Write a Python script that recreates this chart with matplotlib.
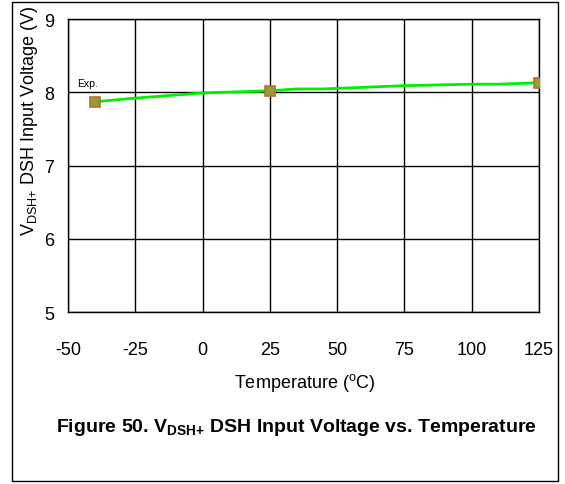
import matplotlib
matplotlib.use("Agg")
import matplotlib.pyplot as plt
from matplotlib.patches import Rectangle

plt.rcParams['font.family'] = ['Liberation Sans', 'DejaVu Sans']
plt.rcParams['mathtext.fontset'] = 'custom'
plt.rcParams['mathtext.rm'] = 'Liberation Sans'
plt.rcParams['mathtext.bf'] = 'Liberation Sans:bold'
plt.rcParams['axes.unicode_minus'] = False

# Data
line_temps = [-40, -25, 0, 25, 35, 45, 75, 100, 110, 125]
line_volts = [7.87, 7.92, 7.99, 8.02, 8.045, 8.045, 8.09, 8.11, 8.11, 8.13]
marker_temps = [-40, 25, 125]
marker_volts = [7.87, 8.02, 8.13]
x_ticks = [-50, -25, 0, 25, 50, 75, 100, 125]
y_ticks = [5, 6, 7, 8, 9]

fig = plt.figure(figsize=(5.65, 4.85), dpi=100)
ax = fig.add_axes([68/565, 1-313/485, (539-68)/565, (313-20)/485])

ax.plot(line_temps, line_volts, color='#00ee00', lw=2, zorder=3)
ax.plot(marker_temps, marker_volts, ls='none', marker='s', ms=7,
        mfc='#9a9a2e', mec='#b0703a', mew=1.2, zorder=4)

ax.set_xlim(-50, 125)
ax.set_ylim(5, 9)
ax.set_xticks(x_ticks)
ax.set_yticks(y_ticks)
ax.tick_params(axis='both', length=0, labelsize=13)
ax.tick_params(axis='x', pad=21)
ax.tick_params(axis='y', pad=10)
ax.grid(True, color='black', lw=1)
for s in ax.spines.values():
    s.set_color('black')
    s.set_linewidth(1)

ax.text(-46.5, 8.06, 'Exp.', fontsize=7.5, va='bottom', ha='left')

fig.text(30/565, 1-5/485, r'V$_{\mathregular{DSH{+}}}$ DSH Input Voltage (V)',
         rotation=90, ha='center', va='top', fontsize=13)
fig.text(305/565, 1-383/485, r'Temperature ($^{\mathregular{o}}$C)',
         ha='center', va='center', fontsize=13)
fig.text(296/565, 1-428/485, r'Figure 50. V$_{\mathbf{DSH{+}}}$ DSH Input Voltage vs. Temperature',
         ha='center', va='center', fontsize=14, fontweight='bold')

fig.patches.append(Rectangle((12/565, 3/485), (558-12)/565, (482-3)/485,
                             transform=fig.transFigure, fill=False,
                             edgecolor='black', lw=1))

fig.savefig('out.png', dpi=100)
